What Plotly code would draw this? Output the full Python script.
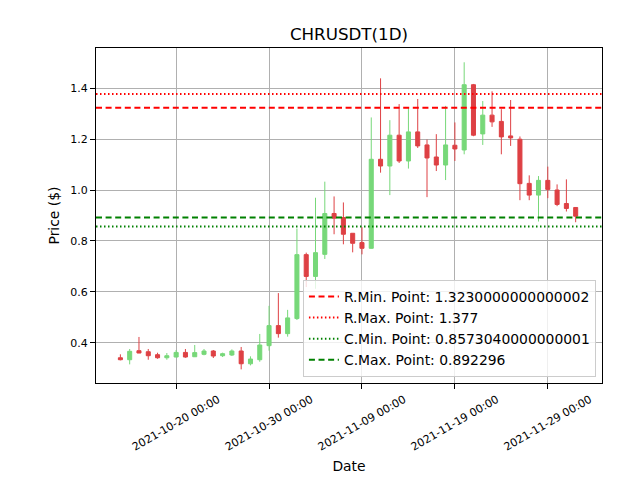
import plotly.graph_objects as go

dates = ["2021-10-14", "2021-10-15", "2021-10-16", "2021-10-17", "2021-10-18", "2021-10-19",
         "2021-10-20", "2021-10-21", "2021-10-22", "2021-10-23", "2021-10-24", "2021-10-25",
         "2021-10-26", "2021-10-27", "2021-10-28", "2021-10-29", "2021-10-30", "2021-10-31",
         "2021-11-01", "2021-11-02", "2021-11-03", "2021-11-04", "2021-11-05", "2021-11-06",
         "2021-11-07", "2021-11-08", "2021-11-09", "2021-11-10", "2021-11-11", "2021-11-12",
         "2021-11-13", "2021-11-14", "2021-11-15", "2021-11-16", "2021-11-17", "2021-11-18",
         "2021-11-19", "2021-11-20", "2021-11-21", "2021-11-22", "2021-11-23", "2021-11-24",
         "2021-11-25", "2021-11-26", "2021-11-27", "2021-11-28", "2021-11-29", "2021-11-30",
         "2021-12-01", "2021-12-02"]

opens = [0.342, 0.3343, 0.3697, 0.3657, 0.354, 0.342, 0.3449, 0.363, 0.346, 0.3555, 0.3685, 0.350,
         0.3528, 0.3685, 0.3185, 0.3343, 0.3894, 0.4681, 0.4366, 0.4957, 0.7465, 0.661, 0.7476, 0.9079,
         0.892, 0.8303, 0.7937, 0.7713, 1.1205, 1.0941, 1.215, 1.1138, 1.228, 1.1768, 1.1295, 1.098,
         1.1756, 1.157, 1.413, 1.220, 1.2937, 1.269, 1.2122, 1.1992, 1.026, 0.980, 1.0378, 1.000,
         0.947, 0.9315]
highs = [0.3555, 0.3764, 0.4236, 0.3764, 0.3618, 0.3606, 0.3724, 0.3764, 0.3921, 0.3764, 0.3724, 0.362,
         0.3748, 0.3843, 0.3476, 0.4354, 0.5457, 0.5957, 0.5299, 0.8488, 0.7543, 0.9697, 1.0327, 0.9748,
         0.9512, 0.8303, 0.854, 1.2846, 1.438, 1.274, 1.337, 1.324, 1.357, 1.198, 1.219, 1.330,
         1.265, 1.501, 1.416, 1.349, 1.387, 1.317, 1.353, 1.21, 1.0575, 1.0547, 1.0917, 1.022,
         1.0417, 0.9315]
lows = [0.3319, 0.3161, 0.360, 0.3343, 0.338, 0.3343, 0.3437, 0.342, 0.3449, 0.3516, 0.341, 0.3449,
        0.3488, 0.2965, 0.3122, 0.3264, 0.3697, 0.4209, 0.4248, 0.490, 0.6193, 0.6126, 0.7295, 0.8264,
        0.787, 0.7555, 0.7476, 0.770, 1.068, 0.980, 1.106, 1.084, 1.165, 0.972, 1.0744, 1.039,
        1.114, 1.140, 1.211, 1.1768, 1.2476, 1.140, 1.173, 0.960, 0.960, 0.8764, 0.968, 0.9366,
        0.9157, 0.8736]
closes = [0.3343, 0.3673, 0.3606, 0.350, 0.342, 0.350, 0.363, 0.3449, 0.3622, 0.3685, 0.3488, 0.358,
          0.3685, 0.3185, 0.337, 0.3921, 0.4681, 0.4366, 0.4984, 0.7465, 0.661, 0.7543, 0.9079, 0.8894,
          0.8264, 0.791, 0.7713, 1.1205, 1.0941, 1.215, 1.1138, 1.228, 1.173, 1.1256, 1.098, 1.1768,
          1.161, 1.413, 1.215, 1.2937, 1.2673, 1.2083, 1.2043, 1.0248, 0.980, 1.0378, 1.0024, 0.9433,
          0.9276, 0.8973]

level_names = ["R.Min. Point: 1.3230000000000002", "R.Max. Point: 1.377",
               "C.Min. Point: 0.8573040000000001", "C.Max. Point: 0.892296"]
level_values = [1.3230000000000002, 1.377, 0.8573040000000001, 0.892296]
level_colors = ["#ff0000", "#ff0000", "#008000", "#008000"]
level_dashes = ["6px,3.6px", "1.5px,2.5px", "1.5px,2.5px", "6px,3.6px"]

x_range = ["2021-10-11 09:00", "2021-12-04 20:00"]
y_range = [0.243, 1.557]
tick_vals = ["2021-10-20", "2021-10-30", "2021-11-09", "2021-11-19", "2021-11-29"]
tick_text = [d + " 00:00" for d in tick_vals]
y_ticks = [0.4, 0.6, 0.8, 1.0, 1.2, 1.4]

GREEN = "#77d879"
RED = "#de4044"

fig = go.Figure()
fig.add_trace(go.Candlestick(
    x=dates, open=opens, high=highs, low=lows, close=closes,
    increasing=dict(line=dict(color=GREEN, width=1), fillcolor=GREEN),
    decreasing=dict(line=dict(color=RED, width=1), fillcolor=RED),
    whiskerwidth=0, showlegend=False, hoverinfo="skip",
))

for i, (nm, v, c, d) in enumerate(zip(level_names, level_values, level_colors, level_dashes)):
    fig.add_trace(go.Scatter(
        x=x_range, y=[v, v], mode="lines", name=nm,
        line=dict(color=c, width=2, dash=d), legendgroup=f"g{i}",
    ))

font = "DejaVu Sans, Liberation Sans, sans-serif"
fig.update_layout(
    width=640, height=480,
    margin=dict(l=96, r=38, t=48, b=97),
    paper_bgcolor="white", plot_bgcolor="white",
    font=dict(family=font, color="black"),
    boxgap=0.38,
    title=dict(text="CHRUSDT(1D)", x=0.5, xref="paper", xanchor="center",
               y=1 - 34 / 480, yanchor="middle", font=dict(size=16.7)),
    showlegend=True,
    legend=dict(x=0.988, y=0.018, xanchor="right", yanchor="bottom",
                bgcolor="rgba(255,255,255,0.8)", bordercolor="#cccccc", borderwidth=1,
                font=dict(size=13.9), tracegroupgap=0),
)
fig.update_xaxes(
    type="date", range=x_range, rangeslider=dict(visible=False),
    tickmode="array", tickvals=tick_vals, ticktext=tick_text,
    tickangle=-30, ticklabelshift=42, tickfont=dict(size=11),
    ticks="outside", ticklen=5, tickcolor="black",
    showgrid=True, gridcolor="#b0b0b0", gridwidth=1,
    showline=True, linecolor="black", linewidth=1, mirror=True,
    title=dict(text="Date", font=dict(size=13.9), standoff=8),
    automargin=False,
)
fig.update_yaxes(
    range=y_range, tickmode="array", tickvals=y_ticks, tickformat=".1f",
    tickfont=dict(size=11),
    ticks="outside", ticklen=5, tickcolor="black",
    showgrid=True, gridcolor="#b0b0b0", gridwidth=1,
    showline=True, linecolor="black", linewidth=1, mirror=True,
    title=dict(text="Price ($)", font=dict(size=13.9), standoff=7),
    automargin=False, zeroline=False,
)

fig.write_html("out.html")
